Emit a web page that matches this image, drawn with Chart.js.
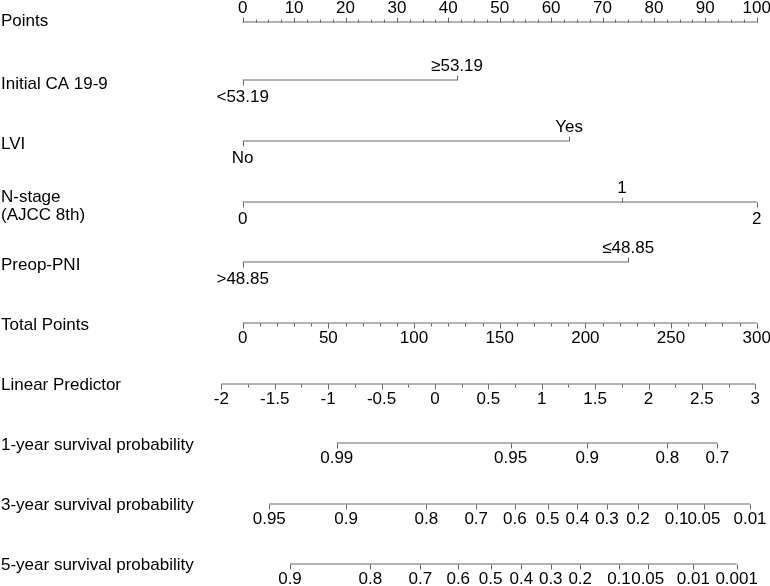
<!DOCTYPE html>
<html>
<head>
<meta charset="UTF-8">
<title>Nomogram</title>
<script src="https://cdn.jsdelivr.net/npm/chart.js"></script>
<style>
  html, body { margin: 0; padding: 0; background: #fff; }
  #wrap { width: 770px; height: 586px; }
</style>
</head>
<body>
<div id="wrap"><canvas id="nomo"></canvas></div>
<script>
// Points axis (0-100)
const pointTicks = [0, 10, 20, 30, 40, 50, 60, 70, 80, 90, 100];
const pointMinorStep = 2.5;

// predictor rows: level labels and their points
const caLevels = ["<53.19", "≥53.19"];
const caPoints = [0, 41.7];
const lviLevels = ["No", "Yes"];
const lviPoints = [0, 63.5];
const nstageLevels = ["0", "1", "2"];
const nstagePoints = [0, 73.8, 100];
const pniLevels = [">48.85", "≤48.85"];
const pniPoints = [0, 75];

// Total points axis (0-300)
const totalTicks = [0, 50, 100, 150, 200, 250, 300];
const totalMinorStep = 10;

// Linear predictor
const lpTicks = [-2, -1.5, -1, -0.5, 0, 0.5, 1, 1.5, 2, 2.5, 3];
const lpMinorStep = 0.25;
const lpZeroTotal = 112.2;     // total points where LP = 0
const lpTotalPerUnit = 62.33;  // total points per 1 LP unit

// survival probabilities, position in total points
const surv1Labels = ["0.99", "0.95", "0.9", "0.8", "0.7"];
const surv1Total = [54.9, 156.4, 201.1, 247.8, 277.0];
const surv3Labels = ["0.95", "0.9", "0.8", "0.7", "0.6", "0.5", "0.4", "0.3", "0.2", "0.1", "0.05", "0.01"];
const surv3Total = [15.5, 60.3, 107.2, 136.3, 158.8, 178.0, 195.3, 212.6, 230.7, 253.3, 269.2, 296.1];
const surv5Labels = ["0.9", "0.8", "0.7", "0.6", "0.5", "0.4", "0.3", "0.2", "0.1", "0.05", "0.01", "0.001"];
const surv5Total = [27.6, 74.5, 103.7, 125.8, 144.7, 162.6, 179.8, 197.0, 219.6, 236.4, 263.0, 288.3];

const tot2pts = t => t / 3;
const lp2pts = v => tot2pts(lpZeroTotal + v * lpTotalPerUnit);

// row layout (y in canvas px)
const rows = [
  { name: ["Points"], nameY: 21, lineY: 22, kind: "points" },
  { name: ["Initial CA 19-9"], nameY: 84, lineY: 80, kind: "factor", levels: caLevels, pts: caPoints, side: ["down", "up"] },
  { name: ["LVI"], nameY: 144, lineY: 141, kind: "factor", levels: lviLevels, pts: lviPoints, side: ["down", "up"] },
  { name: ["N-stage", "(AJCC 8th)"], nameY: 197, lineY: 202, kind: "factor", levels: nstageLevels, pts: nstagePoints, side: ["down", "up", "down"] },
  { name: ["Preop-PNI"], nameY: 265, lineY: 262, kind: "factor", levels: pniLevels, pts: pniPoints, side: ["down", "up"] },
  { name: ["Total Points"], nameY: 325, lineY: 323, kind: "total" },
  { name: ["Linear Predictor"], nameY: 385, lineY: 384, kind: "lp" },
  { name: ["1-year survival probability"], nameY: 445, lineY: 443, kind: "surv", labels: surv1Labels, total: surv1Total },
  { name: ["3-year survival probability"], nameY: 505, lineY: 504, kind: "surv", labels: surv3Labels, total: surv3Total },
  { name: ["5-year survival probability"], nameY: 565, lineY: 564, kind: "surv", labels: surv5Labels, total: surv5Total }
];

// build the tick list (points units) for every row
rows.forEach(r => {
  r.ticks = [];
  if (r.kind === "points") {
    for (let v = 0; v <= 100 + 1e-9; v += pointMinorStep) r.ticks.push({ x: v, major: false, dir: "up" });
    pointTicks.forEach(v => r.ticks.push({ x: v, major: true, dir: "up", text: String(v), pos: "above" }));
  } else if (r.kind === "factor") {
    r.levels.forEach((lv, i) => r.ticks.push({ x: r.pts[i], major: true, dir: r.side[i], text: lv, pos: r.side[i] === "up" ? "above" : "below" }));
  } else if (r.kind === "total") {
    for (let v = 0; v <= 300 + 1e-9; v += totalMinorStep) r.ticks.push({ x: tot2pts(v), major: false, dir: "down" });
    totalTicks.forEach(v => r.ticks.push({ x: tot2pts(v), major: true, dir: "down", text: String(v), pos: "below" }));
  } else if (r.kind === "lp") {
    for (let v = -2; v <= 3 + 1e-9; v += lpMinorStep) r.ticks.push({ x: lp2pts(v), major: false, dir: "down" });
    lpTicks.forEach(v => r.ticks.push({ x: lp2pts(v), major: true, dir: "down", text: String(v), pos: "below" }));
  } else if (r.kind === "surv") {
    r.labels.forEach((lb, i) => r.ticks.push({ x: tot2pts(r.total[i]), major: true, dir: "down", text: lb, pos: "below" }));
  }
  const xs = r.ticks.map(t => t.x);
  r.start = Math.min(...xs);
  r.end = Math.max(...xs);
});

const lineColor = "#666666";
const fontSpec = "17px 'Liberation Sans', Arial, sans-serif";

const nomoPlugin = {
  id: "nomo",
  afterDatasetsDraw(chart) {
    const { ctx, scales: { x, y } } = chart;
    ctx.save();
    ctx.font = fontSpec;
    ctx.fillStyle = "#000";
    ctx.textBaseline = "middle";
    rows.forEach(r => {
      // row title
      ctx.textAlign = "left";
      r.name.forEach((n, i) => ctx.fillText(n, 1, y.getPixelForValue(r.nameY + i * 18)));
      const ly = Math.round(y.getPixelForValue(r.lineY)) + 0.5;
      // ticks
      ctx.strokeStyle = lineColor;
      ctx.lineWidth = 1;
      r.ticks.forEach(t => {
        const px = Math.round(x.getPixelForValue(t.x)) + 0.5;
        const len = t.major ? 5 : 3;
        ctx.beginPath();
        ctx.moveTo(px, ly);
        ctx.lineTo(px, t.dir === "up" ? ly - len : ly + len);
        ctx.stroke();
        if (t.text !== undefined) {
          ctx.textAlign = "center";
          const below = r.kind === "factor" ? 17 : 15;
          const ty = t.pos === "above" ? ly - 14 : ly + below;
          ctx.fillText(t.text, x.getPixelForValue(t.x), ty);
        }
      });
    });
    ctx.restore();
  }
};

const datasets = rows.map(r => ({
  label: r.name.join(" "),
  data: [{ x: r.start, y: r.lineY }, { x: r.end, y: r.lineY }],
  showLine: true,
  borderColor: lineColor,
  borderWidth: 1,
  pointRadius: 0,
  fill: false
}));

new Chart(document.getElementById("nomo").getContext("2d"), {
  type: "scatter",
  data: { datasets: datasets },
  options: {
    responsive: true,
    maintainAspectRatio: false,
    animation: false,
    layout: { padding: 0 },
    plugins: { legend: { display: false }, tooltip: { enabled: false } },
    scales: {
      x: { type: "linear", display: false, min: -242.7 / 5.14, max: (770 - 242.7) / 5.14 },
      y: { type: "linear", display: false, min: 0, max: 586, reverse: true }
    }
  },
  plugins: [nomoPlugin]
});
</script>
</body>
</html>
